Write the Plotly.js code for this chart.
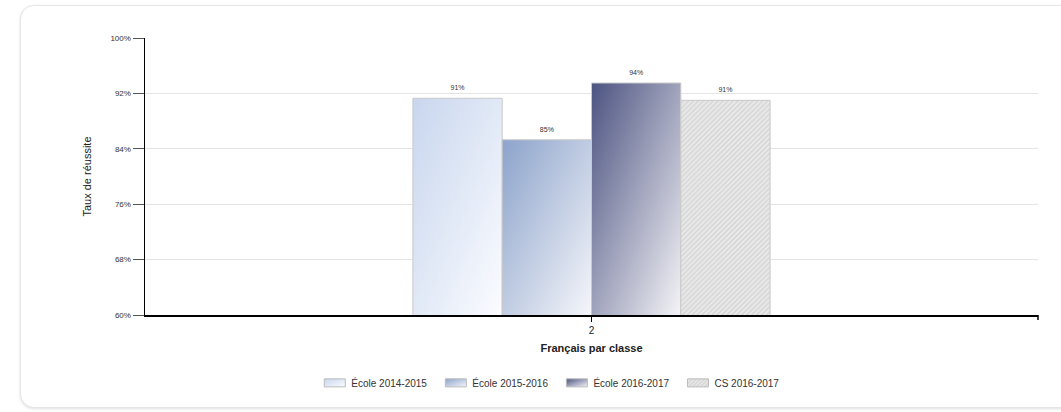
<!DOCTYPE html>
<html>
<head>
<meta charset="utf-8">
<script src="https://cdn.plot.ly/plotly-3.0.1.min.js"></script>
<style>
html,body{margin:0;padding:0;background:#fff;width:1061px;height:412px;overflow:hidden;font-family:"Liberation Sans",Arial,sans-serif;}
#card{position:absolute;left:20px;top:5px;width:1080px;height:401px;border:1px solid #e6e6e6;border-radius:14px;box-shadow:0 1px 3px rgba(0,0,0,0.12);background:#fff;}
#chart{position:absolute;left:0;top:0;width:1061px;height:412px;}
</style>
</head>
<body>
<div id="card"></div>
<div id="chart"></div>
<script>
const categories = ["2"];
const seriesNames = ["École 2014-2015", "École 2015-2016", "École 2016-2017", "CS 2016-2017"];
const ecole1415 = [91.3];
const ecole1516 = [85.3];
const ecole1617 = [93.5];
const cs1617 = [91.0];
const yTicks = [60, 68, 76, 84, 92, 100];
const yTickLabels = ["60%", "68%", "76%", "84%", "92%", "100%"];

const seriesValues = [ecole1415, ecole1516, ecole1617, cs1617];
const baseColors = ["#e3eaf6", "#c0cde3", "#8d91ad", "#dcdcdc"];

const traces = seriesValues.map((vals, i) => {
  const t = {
    type: "bar",
    name: seriesNames[i],
    x: categories,
    y: vals,
    texttemplate: "%{y:.0f}%",
    textposition: "outside",
    cliponaxis: false,
    textfont: {size: 7, color: "#333", family: "Liberation Sans, Arial, sans-serif"},
    marker: {color: baseColors[i], line: {color: "#c9c9c9", width: 1}},
    hoverinfo: "none"
  };
  if (i === 3) {
    t.marker.pattern = {shape: "/", bgcolor: "#d8d8d8", fgcolor: "#f2f2f2", size: 3.5, solidity: 0.35, fillmode: "replace"};
  }
  return t;
});

const layout = {
  width: 1061, height: 412,
  margin: {l: 145, r: 23, t: 38, b: 97},
  paper_bgcolor: "rgba(0,0,0,0)",
  plot_bgcolor: "rgba(0,0,0,0)",
  font: {family: "Liberation Sans, Arial, sans-serif", color: "#333"},
  barmode: "group",
  bargap: 0.6,
  bargroupgap: 0,
  showlegend: true,
  legend: {orientation: "h", x: 0.4516, xanchor: "center", y: -0.245, yanchor: "middle",
           font: {size: 10, color: "#333"}, traceorder: "normal"},
  shapes: [{type: "line", xref: "paper", yref: "paper", x0: 1, x1: 1, y0: 0, y1: -0.018,
            line: {color: "#000", width: 1.5}}],
  xaxis: {
    type: "category",
    showline: true, linecolor: "#000", linewidth: 1.5,
    ticks: "outside", ticklen: 5, tickcolor: "#000", tickwidth: 1.5,
    tickfont: {size: 10, color: "#222"},
    showgrid: false,
    title: {text: "<b>Français par classe</b>", font: {size: 11, color: "#222"}, standoff: 10}
  },
  yaxis: {
    range: [60, 100],
    tickvals: yTicks, ticktext: yTickLabels,
    showline: true, linecolor: "#000", linewidth: 1.5,
    ticks: "outside", ticklen: 11, tickcolor: "#555", tickwidth: 1,
    tickfont: {size: 8, color: "#333"},
    showgrid: true, gridcolor: "#e4e4e4", gridwidth: 1,
    zeroline: false,
    title: {text: "Taux de réussite", font: {size: 11, color: "#222"}, standoff: 16}
  }
};

const gradients = [
  ["#c8d6ee", "#fbfcff"],
  ["#8ca3cb", "#f5f6fa"],
  ["#4c5381", "#f4f4f7"]
];

function makeGrad(defs, id, cols, x1, y1, x2, y2, user) {
  const ns = "http://www.w3.org/2000/svg";
  const lg = document.createElementNS(ns, "linearGradient");
  lg.setAttribute("id", id);
  if (user) lg.setAttribute("gradientUnits", "userSpaceOnUse");
  lg.setAttribute("x1", x1); lg.setAttribute("y1", y1);
  lg.setAttribute("x2", x2); lg.setAttribute("y2", y2);
  [[0, cols[0]], [1, cols[1]]].forEach(([o, c]) => {
    const st = document.createElementNS(ns, "stop");
    st.setAttribute("offset", o);
    st.setAttribute("stop-color", c);
    lg.appendChild(st);
  });
  defs.appendChild(lg);
}

function applyGradients() {
  const gd = document.getElementById("chart");
  const svg = gd.querySelector(".main-svg");
  if (!svg) return;
  const ns = "http://www.w3.org/2000/svg";
  const old = svg.querySelector("defs#customgrads");
  if (old) old.remove();
  const defs = document.createElementNS(ns, "defs");
  defs.setAttribute("id", "customgrads");
  svg.insertBefore(defs, svg.firstChild);
  const plotH = gd._fullLayout._size.h;
  const barTraces = gd.querySelectorAll(".barlayer .trace");
  barTraces.forEach((tr, i) => {
    if (i < 3) {
      tr.querySelectorAll(".point path").forEach((p, j) => {
        const b = p.getBBox();
        const top = Math.max(0, b.y);
        const bot = Math.min(plotH, b.y + b.height);
        const w = b.width, h = bot - top;
        const k = 2 * w * h / (w * w + h * h);
        const id = "bargrad" + i + "_" + j;
        makeGrad(defs, id, gradients[i], b.x, top, b.x + h * k, top + w * k, true);
        p.style.fill = "url(#" + id + ")";
      });
    }
    tr.querySelectorAll("text").forEach(t => {
      const tf = t.getAttribute("transform") || "";
      t.setAttribute("transform", "translate(0,-4) " + tf);
    });
  });
  gradients.forEach((g, i) => makeGrad(defs, "leggrad" + i, g, 0, 0, 1, 1, false));
  const legItems = gd.querySelectorAll(".legend .traces");
  legItems.forEach((it, i) => {
    it.querySelectorAll(".legendpoints path").forEach(p => {
      p.setAttribute("d", "M14,4H-7V-4H14Z");
      if (i < 3) p.style.fill = "url(#leggrad" + i + ")";
      p.style.stroke = "#bbb";
      p.style.strokeWidth = "1px";
    });
  });
}

Plotly.newPlot("chart", traces, layout, {staticPlot: true, displayModeBar: false}).then(applyGradients);
</script>
</body>
</html>
